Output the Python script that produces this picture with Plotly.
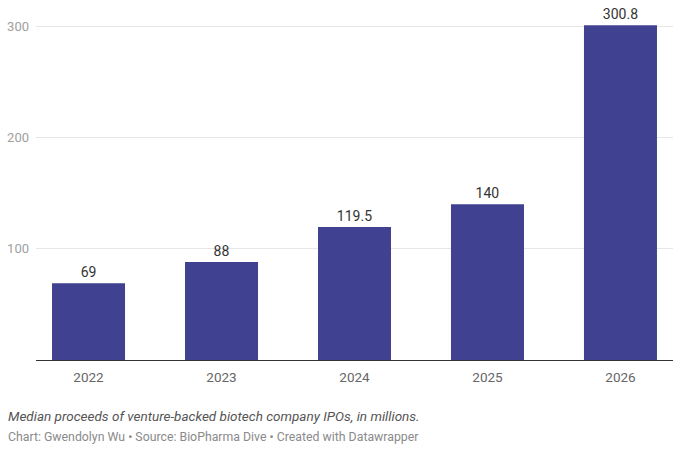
import plotly.graph_objects as go

years = ["2022", "2023", "2024", "2025", "2026"]
proceeds = [69, 88, 119.5, 140, 300.8]
value_labels = ["69", "88", "119.5", "140", "300.8"]
y_ticks = [100, 200, 300]

W, H = 680, 451
left, right, top, bottom = 36, 7, 4, 91

fig = go.Figure(go.Bar(
    x=years, y=proceeds,
    marker=dict(color="#404191", line=dict(width=0)),
    text=value_labels, textposition="outside", cliponaxis=False,
    textfont=dict(family="Roboto", size=14, color="#333333"),
    hoverinfo="skip",
))

fig.update_layout(
    width=W, height=H,
    margin=dict(l=left, r=right, t=top, b=bottom),
    paper_bgcolor="white", plot_bgcolor="white",
    bargap=0.451,
    showlegend=False,
    font=dict(family="Roboto", size=13, color="#333333"),
    xaxis=dict(
        type="category", range=[-0.395, 4.395],
        showgrid=False, showline=True, linecolor="#333333", linewidth=1,
        ticks="", tickfont=dict(family="Roboto", size=13.5, color="#666666"),
        ticklabelstandoff=5,
        fixedrange=True,
    ),
    yaxis=dict(
        range=[0, 320], tickvals=y_ticks, ticktext=[str(v) for v in y_ticks],
        showgrid=True, gridcolor="#e6e6e6", gridwidth=1,
        zeroline=False, showline=False, ticks="",
        tickfont=dict(family="Roboto", size=13, color="#a0a0a0"),
        ticklabelstandoff=6,
        fixedrange=True,
    ),
    annotations=[
        dict(text="<i>Median proceeds of venture-backed biotech company IPOs, in millions.</i>",
             x=6 / W, y=1 - 416 / H, xref="paper", yref="paper", xanchor="left", yanchor="middle",
             showarrow=False, font=dict(family="Roboto", size=13.5, color="#555555")),
        dict(text="Chart: Gwendolyn Wu • Source: BioPharma Dive • Created with Datawrapper",
             x=6 / W, y=1 - 437 / H, xref="paper", yref="paper", xanchor="left", yanchor="middle",
             showarrow=False, font=dict(family="Roboto", size=12.3, color="#8a8a8a")),
    ],
)

# convert paper coords of annotations relative to plot area
plot_h = H - top - bottom
for a in fig.layout.annotations:
    py = float(a.y)
    pix_from_top = (1 - py) * H
    a.y = 1 - (pix_from_top - top) / plot_h
    a.x = (a.x * W - left) / (W - left - right)

fig.write_html("out.html", config={"displayModeBar": False},
               post_script="document.body.style.margin='0';")
